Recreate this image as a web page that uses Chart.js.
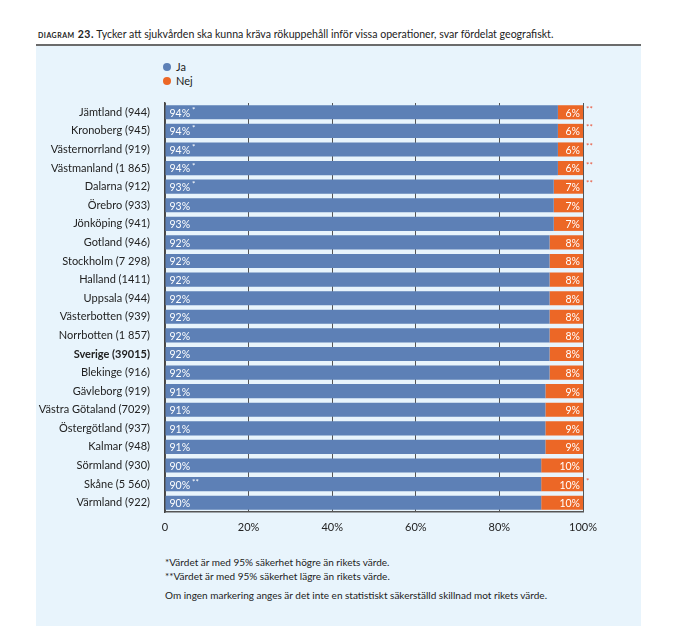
<!DOCTYPE html>
<html><head><meta charset="utf-8">
<script src="https://cdn.jsdelivr.net/npm/chart.js@4"></script>
<style>
html,body{margin:0;padding:0;background:#fff;width:692px;height:628px;overflow:hidden;font-family:Lato,"Open Sans",sans-serif;}
#title{position:absolute;left:38px;top:28px;font-size:10.6px;color:#222;white-space:nowrap;}
#title .d{font-variant:small-caps;font-weight:700;font-size:10.5px;letter-spacing:0.5px;}
#rule{position:absolute;left:36px;top:44px;width:605px;height:2px;background:#6b6b6b;}
#panel{position:absolute;left:36px;top:46px;width:605px;height:580px;background:#e8f4fc;}
#legend{position:absolute;left:163px;top:60px;font-size:11px;color:#222;line-height:14px;}
#legend .i{display:flex;align-items:center;}
#legend .c{width:8px;height:8px;border-radius:50%;margin-right:5px;}
#notes{position:absolute;left:165px;top:555px;font-size:10px;color:#222;line-height:14px;}
canvas{position:absolute;left:0;top:0;}
</style></head>
<body>
<div id="title"><span class="d">diagram 23.</span> Tycker att sjukvården ska kunna kräva rökuppehåll inför vissa operationer, svar fördelat geografiskt.</div>
<div id="rule"></div>
<div id="panel"></div>
<div id="legend"><div class="i"><span class="c" style="background:#5d80b6"></span>Ja</div><div class="i"><span class="c" style="background:#ec6726"></span>Nej</div></div>
<div id="notes">*Värdet är med 95% säkerhet högre än rikets värde.<br>**Värdet är med 95% säkerhet lägre än rikets värde.<div style="margin-top:5px">Om ingen markering anges är det inte en statistiskt säkerställd skillnad mot rikets värde.</div></div>
<canvas id="c" width="692" height="628"></canvas>
<script>
const categories = ["Jämtland (944)","Kronoberg (945)","Västernorrland (919)","Västmanland (1 865)","Dalarna (912)","Örebro (933)","Jönköping (941)","Gotland (946)","Stockholm (7 298)","Halland (1411)","Uppsala (944)","Västerbotten (939)","Norrbotten (1 857)","Sverige (39015)","Blekinge (916)","Gävleborg (919)","Västra Götaland (7029)","Östergötland (937)","Kalmar (948)","Sörmland (930)","Skåne (5 560)","Värmland (922)"];
const ja  = [94,94,94,94,93,93,93,92,92,92,92,92,92,92,92,91,91,91,91,90,90,90];
const nej = [6,6,6,6,7,7,7,8,8,8,8,8,8,8,8,9,9,9,9,10,10,10];
const jaMarks  = ["*","*","*","*","*","","","","","","","","","","","","","","","","**",""];
const nejMarks = ["**","**","**","**","**","","","","","","","","","","","","","","","","*",""];
const xTicks = ["0","20%","40%","60%","80%","100%"];
const boldCategory = "Sverige (39015)";

const labelPlugin = {
  id:'labels',
  afterDatasetsDraw(chart){
    const ctx = chart.ctx;
    ctx.save();
    ctx.textBaseline='middle';
    const m0 = chart.getDatasetMeta(0), m1 = chart.getDatasetMeta(1);
    m0.data.forEach((b,i)=>{
      const left = b.base, y = b.y;
      ctx.font='10.5px Lato, "Open Sans", sans-serif';
      ctx.fillStyle='#fff'; ctx.textAlign='left';
      const t = ja[i]+'%';
      ctx.fillText(t, left+4, y+1);
      if(jaMarks[i]){
        const w = ctx.measureText(t).width;
        ctx.font='8px Lato, sans-serif';
        ctx.fillText(jaMarks[i], left+6+w, y-2);
      }
    });
    m1.data.forEach((b,i)=>{
      const right = b.x, y = b.y;
      ctx.font='10.5px Lato, "Open Sans", sans-serif';
      ctx.fillStyle='#fff'; ctx.textAlign='right';
      ctx.fillText(nej[i]+'%', right-3, y+1);
      if(nejMarks[i]){
        ctx.font='8px Lato, sans-serif';
        ctx.fillStyle='#e8553a'; ctx.textAlign='left';
        ctx.fillText(nejMarks[i], right+3, y-3);
      }
    });
    ctx.restore();
  }
};

new Chart(document.getElementById('c'),{
  type:'bar',
  data:{labels:categories,datasets:[
    {label:'Ja',data:ja,backgroundColor:'#5d80b6',categoryPercentage:1,barPercentage:0.76},
    {label:'Nej',data:nej,backgroundColor:'#ec6726',categoryPercentage:1,barPercentage:0.76}
  ]},
  options:{
    indexAxis:'y',responsive:false,animation:false,
    layout:{padding:{left:0,right:109,top:103,bottom:86}},
    plugins:{legend:{display:false},tooltip:{enabled:false}},
    scales:{
      x:{stacked:true,min:0,max:100,
        afterFit(s){s.height=30;},
        ticks:{stepSize:20,padding:9,color:'#222',font:{family:'Lato',size:11},callback:(v,i)=>xTicks[i]},
        grid:{color:'#555',lineWidth:1,drawTicks:false},
        border:{color:'#555',width:1.5}},
      y:{stacked:true,
        afterFit(s){s.width=165;},
        ticks:{padding:7,color:'#222',autoSkip:false,
          font:(c)=>({family:'Lato',size:11,weight:(categories[c.index]===boldCategory)?'bold':'normal'})},
        grid:{display:false},
        border:{color:'#444',width:1.5}}
    }
  },
  plugins:[labelPlugin]
});
</script>
</body></html>
